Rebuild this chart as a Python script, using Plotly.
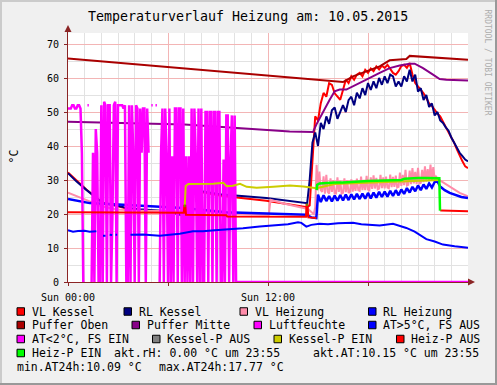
import plotly.graph_objects as go

# ------------------------------------------------------------------ data
# time in hours since Sun 00:00
vk_t = [0, 0.5, 1.1, 1.7, 2.1, 2.9, 3.5, 4.3, 5.5, 6.0, 6.9, 7.0, 7.1, 9.3, 11.9, 14.35]
vk_v = [32.2, 29.8, 27.2, 24.8, 23.3, 22.4, 21.6, 21.2, 20.9, 20.6, 20.2, 27.0, 27.2, 25.3, 23.9, 22.0]
vk_heat_start = 14.5   # 10-minute samples
vk_heat = [22.5, 36.0, 48.7, 47.5, 52.6, 55.6, 54.5, 58.5, 58.0, 55.5,
           54.6, 53.6, 56.5, 59.5, 58.5, 60.5, 59.5, 61.0, 61.5, 60.5,
           62.4, 61.5, 62.8, 62.0, 63.4, 62.5, 63.6, 63.0, 63.9, 62.5,
           61.5, 61.0, 62.0, 63.5, 63.9, 63.0, 64.4, 61.0, 58.5, 57.5,
           56.6, 55.5, 54.1, 52.5, 51.8, 50.5, 49.5, 48.7, 47.0, 45.5,
           44.0, 42.5, 41.0, 39.0, 37.0, 35.5, 34.0, 33.5]

rk_t = [0, 0.5, 1.1, 1.7, 2.1, 2.9, 3.5, 4.3, 5.5, 6.0, 6.9, 7.0, 7.1, 9.3, 11.9, 14.35]
rk_v = [32.0, 29.6, 27.1, 24.7, 23.2, 22.5, 21.8, 21.4, 21.1, 20.8, 19.5, 27.0, 27.4, 25.7, 24.7, 23.2]
rk_heat_start = 14.5   # 10-minute samples
rk_heat = [30.0, 41.0, 44.0, 40.0, 46.8, 45.0, 48.7, 46.5, 50.5, 51.3,
           48.0, 49.8, 52.0, 50.0, 53.5, 54.5, 52.0, 55.7, 54.0, 57.0,
           55.0, 58.5, 56.5, 59.0, 57.0, 60.0, 58.0, 60.5, 58.5, 61.0,
           60.5, 57.5, 59.0, 57.5, 60.5, 59.0, 62.4, 59.0, 61.0, 56.0,
           57.0, 53.5, 55.0, 51.5, 52.5, 49.0, 50.0, 47.5, 46.8, 45.5,
           44.5, 42.5, 41.0, 39.5, 38.0, 37.0, 36.0, 35.5]

vh_t = [0, 0.6, 1.3, 2.0, 2.9, 4.0, 5.5, 6.9, 7.0, 7.3, 7.6, 9.0, 10.0, 12.05, 12.15, 13.0, 14.4, 14.6]
vh_v = [26.3, 25.0, 23.7, 22.3, 21.3, 21.0, 20.8, 20.7, 22.3, 22.5, 21.0, 20.3, 20.0, 19.8, 24.2, 23.0, 21.5, 20.6]
vh_heat_start = 14.75  # 5-minute samples
vh_heat = [20.0, 22.0, 34.5, 27.0, 32.5, 27.0, 26.5, 31.1, 26.0, 31.5,
           26.5, 26.0, 30.5, 26.5, 30.0, 26.0, 26.0, 30.8, 26.5, 29.8,
           26.0, 26.2, 30.5, 26.4, 30.0, 26.2, 26.5, 30.2, 26.6, 29.6,
           26.8, 30.4, 27.0, 26.8, 31.0, 27.0, 30.0, 27.0, 31.2, 27.2,
           27.0, 30.8, 27.4, 31.4, 27.5, 30.6, 27.3, 27.5, 31.5, 27.6,
           30.8, 27.5, 31.0, 27.8, 27.6, 31.6, 27.9, 30.9, 28.0, 31.3,
           27.8, 28.0, 32.2, 28.3, 31.5, 28.5, 33.0, 28.4, 28.6, 32.8,
           28.8, 33.5, 29.0, 32.4, 28.8, 33.6, 29.0, 29.2, 33.0, 29.4,
           34.0, 29.5, 33.2, 29.8, 34.5, 30.0, 33.8, 30.2, 31.0, 30.5,
           30.1]
vh_tail_t = [22.6, 22.9, 23.5, 24.0]
vh_tail_v = [29.0, 28.1, 26.2, 25.2]

rh_t = [0, 1.3, 3.3, 5.3, 6.9, 9.5, 12.0, 14.3, 14.6, 14.9]
rh_v = [24.4, 23.2, 22.7, 22.2, 21.8, 20.5, 20.1, 19.8, 19.0, 18.8]
rh_heat_start = 15.0   # 10-minute samples
rh_heat = [25.7, 23.5, 25.5, 23.8, 25.3, 23.7, 25.4, 23.9, 25.6, 24.0,
           25.7, 24.1, 25.8, 24.3, 25.9, 24.4, 26.0, 24.5, 26.2, 24.6,
           26.3, 24.8, 26.5, 25.0, 26.6, 25.1, 26.8, 25.3, 27.0, 25.5,
           27.2, 25.9, 27.6, 26.3, 28.0, 26.7, 28.4, 27.0, 28.7, 27.4,
           29.0, 27.8, 29.4, 29.6]
rh_tail_t = [22.33, 22.6, 22.9, 23.3, 23.6, 24.0]
rh_tail_v = [28.1, 27.0, 26.2, 25.5, 25.0, 24.7]

po_t = [0, 16.5, 17.1, 17.9, 18.7, 19.3, 20.3, 20.5, 22.0, 24.0]
po_v = [65.7, 58.8, 60.5, 61.9, 63.4, 65.2, 65.6, 66.5, 66.1, 65.4]

pm_t = [0, 7.0, 13.3, 14.7, 14.9, 15.1, 15.4, 15.7, 16.0, 16.3, 16.7, 17.1,
        17.9, 18.7, 19.3, 19.9, 20.5, 20.8, 21.3, 21.9, 22.3, 22.7, 24.0]
pm_v = [47.1, 46.3, 44.3, 44.1, 46.3, 48.2, 51.2, 53.6, 56.1, 56.6, 56.6, 57.5,
        59.5, 61.5, 62.9, 63.7, 64.2, 64.2, 62.9, 61.0, 59.7, 59.5, 59.3]

lf_step = 1 / 12       # 5-minute samples from 00:00
lf_v = [51, 51, 51, 52, 52, 51, 51, 52, 52, 51,
        38, 0, 0, None, 52, 52, None, 0, 38, 0,
        45, 38, 0, 0, 52, 0, 53, 52, 0, 52,
        52, 0, 19, 52, 53, 0, 52, 52, 52, 52,
        51, 52, 0, 0, 52, 0, 52, 38, 0, 52,
        51, 0, 51, 38, 51, 51, 0, 51, 38, None,
        52, 52, None, 52, 52, None, 0, 38, 51, 0,
        51, 37, 0, 51, 0, 37, 0, 51, 51, 0,
        51, 51, 0, 51, 0, 37, 0, 37, 0, 51,
        0, 51, 37, 0, 51, 0, 51, 0, 0, 50,
        50, 0, 50, 50, 0, 50, 50, 0, 50, 50,
        0, 0, 36, 0, 49, 49, 0, 36, 49, 0,
        49, 0]
lf_tail_t = [24.0]
lf_tail_v = [0]

at_t = [0.0, 0.3, 0.6, 1.0, 1.3, 1.7, 1.75, 2.1, 2.25, 2.3, 2.5, 2.65, 2.7, 2.85, 2.95, 3.0,
        3.75, 4.5, 5.5, 6.0, 6.7, 7.5, 8.1, 8.8, 9.5, 10.5, 11.5, 12.5, 13.2, 13.8, 14.0,
        14.3, 14.6, 15.1, 15.6, 16.2, 17.1, 17.6, 18.2, 18.7, 19.5, 19.9, 20.3, 20.8, 21.5,
        22.0, 22.5, 23.2, 24.0]
at_v = [15.2, 14.8, 15.0, 15.1, 14.8, 14.9, None, 13.6, 13.6, None, 13.9, 13.8, None, 13.9, 13.9, None,
        13.9, 14.0, 13.6, 13.8, 14.2, 14.9, 14.9, 15.2, 15.4, 15.8, 16.3, 16.6, 17.0, 17.6, 17.4,
        16.3, 16.8, 17.1, 17.0, 17.3, 17.4, 17.0, 16.8, 16.6, 17.1, 16.5, 15.9, 14.8, 12.6,
        11.9, 11.0, 10.5, 10.1]

kpe_t = [7.0, 7.06, 7.22, 8.0, 8.72, 9.32, 9.52, 9.9, 10.32, 10.72, 11.32, 12.32, 13.32,
         14.12, 14.92, 16.0, 17.0, 18.0, 19.0, 20.0, 21.0, 22.3]
kpe_v = [21.8, 28.2, 28.8, 28.9, 28.9, 29.2, 28.2, 28.3, 28.9, 28.0, 27.7, 28.0, 28.4,
         28.1, 27.6, 28.8, 29.0, 29.2, 29.3, 29.5, 29.9, 30.0]

hpa_t = [0, 6.95, 6.98, 7.04, 7.08, 9.5, 9.55, 14.28, 14.31, 14.37, 14.42, 14.9, 14.91, 22.33, 22.4, 24.0]
hpa_v = [20.5, 20.4, 22.4, 22.4, 19.8, 19.6, 19.3, 19.2, 22.7, 22.7, 19.0, 18.8, None, 21.1, 21.0, 20.8]

hpe_t = [6.98, 7.04, 7.05, 14.31, 14.37, 14.38, 14.92, 14.95, 15.1, 15.5, 16.0, 16.5, 17.0,
         17.5, 18.0, 18.5, 19.0, 19.5, 20.0, 20.2, 20.5, 21.0, 21.5, 22.0, 22.28, 22.32]
hpe_v = [22.4, 22.4, None, 22.7, 22.7, None, 27.0, 28.6, 29.0, 29.2, 29.3, 29.3, 29.5,
         29.6, 29.7, 29.8, 29.8, 29.9, 30.0, 30.4, 30.5, 30.6, 30.6, 30.6, 30.5, 21.0]

legend_names = ['VL Kessel', 'RL Kessel', 'VL Heizung', 'RL Heizung',
                'Puffer Oben', 'Puffer Mitte', 'Luftfeuchte', 'AT>5°C, FS AUS',
                'AT<2°C, FS EIN', 'Kessel-P AUS', 'Kessel-P EIN', 'Heiz-P AUS',
                'Heiz-P EIN']
gprint_texts = ['akt.rH: 0.00 °C um 23:55', 'akt.AT:10.15 °C um 23:55',
                'min.AT24h:10.09 °C', 'max.AT24h:17.77 °C']
x_tickvals = [0, 6, 12, 18]
x_ticktext = ['Sun 00:00', '', 'Sun 12:00', '']
title_text = 'Temperaturverlauf Heizung am: 10.05.2015'

# ------------------------------------------------------------------ styles
C = {
    'VL Kessel': '#FF0000', 'RL Kessel': '#000080', 'VL Heizung': '#FF8CAA',
    'RL Heizung': '#0000FF', 'Puffer Oben': '#AA0000', 'Puffer Mitte': '#880088',
    'Luftfeuchte': '#FF00FF', 'AT>5°C, FS AUS': '#0000FF', 'AT<2°C, FS EIN': '#FF00FF',
    'Kessel-P AUS': '#808080', 'Kessel-P EIN': '#CCCC00', 'Heiz-P AUS': '#FF0000',
    'Heiz-P EIN': '#00FF00',
}
W_IMG, H_IMG = 497, 385
L, R, T, B = 68, 29, 33, 103
PW = W_IMG - L - R
PH = H_IMG - T - B
FONT = 'DejaVu Sans Mono'
AXIS = '#8B2525'
MGRID = '#F3B5B5'
GRID = '#E2E2E2'


def px(x):
    return (x - L) / PW


def py(y):
    return (T + PH - y) / PH


def grid_times(start, step, values):
    return [start + i * step for i in range(len(values))]


fig = go.Figure()


def add_line(t, v, color, width):
    fig.add_trace(go.Scatter(x=t, y=v, mode='lines', connectgaps=False,
                             line=dict(color=color, width=width),
                             hoverinfo='skip', showlegend=False))


add_line(vk_t + grid_times(vk_heat_start, 1 / 6, vk_heat), vk_v + vk_heat, C['VL Kessel'], 2)
add_line(rk_t + grid_times(rk_heat_start, 1 / 6, rk_heat), rk_v + rk_heat, C['RL Kessel'], 2)
add_line(vh_t + grid_times(vh_heat_start, 1 / 12, vh_heat) + vh_tail_t,
         vh_v + vh_heat + vh_tail_v, C['VL Heizung'], 2)
add_line(rh_t + grid_times(rh_heat_start, 1 / 6, rh_heat) + rh_tail_t,
         rh_v + rh_heat + rh_tail_v, C['RL Heizung'], 2.5)
add_line(po_t, po_v, C['Puffer Oben'], 2)
add_line(pm_t, pm_v, C['Puffer Mitte'], 2)
add_line(grid_times(0, lf_step, lf_v) + lf_tail_t, lf_v + lf_tail_v, C['Luftfeuchte'], 2.5)
add_line(at_t, at_v, C['AT>5°C, FS AUS'], 2)
add_line(kpe_t, kpe_v, C['Kessel-P EIN'], 2)
add_line(hpa_t, hpa_v, C['Heiz-P AUS'], 2)
add_line(hpe_t, hpe_v, C['Heiz-P EIN'], 2.5)

fig.update_layout(
    width=W_IMG, height=H_IMG,
    margin=dict(l=L, r=R, t=T, b=B, pad=0),
    paper_bgcolor='#F0F0F0', plot_bgcolor='#FFFFFF',
    showlegend=False,
    font=dict(family=FONT, size=10, color='#000000'),
)
fig.update_xaxes(
    range=[0, 24], tickmode='array', tickvals=x_tickvals, ticktext=x_ticktext,
    showgrid=True, gridcolor=MGRID, gridwidth=1,
    minor=dict(dtick=1, tick0=0, showgrid=True, gridcolor=GRID, gridwidth=1),
    showline=True, linecolor=AXIS, linewidth=1,
    ticks='outside', ticklen=3, tickcolor=AXIS, ticklabelstandoff=3,
    tickfont=dict(family=FONT, size=10, color='#000000'),
    zeroline=False, layer='below traces', fixedrange=True,
)
fig.update_yaxes(
    range=[0, PH / 3.4], tickmode='linear', tick0=0, dtick=10,
    showgrid=True, gridcolor=MGRID, gridwidth=1,
    minor=dict(dtick=5, tick0=0, showgrid=True, gridcolor=GRID, gridwidth=1),
    showline=True, linecolor=AXIS, linewidth=1,
    ticks='outside', ticklen=3, tickcolor=AXIS, ticklabelstandoff=3,
    tickfont=dict(family=FONT, size=10, color='#000000'),
    zeroline=False, layer='below traces', fixedrange=True,
)

shapes = []
# frame shading
shapes.append(dict(type='rect', xref='paper', yref='paper', x0=px(0), x1=px(W_IMG), y0=py(2), y1=py(0),
                   fillcolor='#CBCBCB', line=dict(width=0), layer='above'))
shapes.append(dict(type='rect', xref='paper', yref='paper', x0=px(0), x1=px(2), y0=py(H_IMG), y1=py(0),
                   fillcolor='#CBCBCB', line=dict(width=0), layer='above'))
shapes.append(dict(type='rect', xref='paper', yref='paper', x0=px(W_IMG - 2), x1=px(W_IMG), y0=py(H_IMG), y1=py(0),
                   fillcolor='#999999', line=dict(width=0), layer='above'))
shapes.append(dict(type='rect', xref='paper', yref='paper', x0=px(0), x1=px(W_IMG), y0=py(H_IMG), y1=py(H_IMG - 2),
                   fillcolor='#999999', line=dict(width=0), layer='above'))
# axis arrows
shapes.append(dict(type='path', xref='paper', yref='paper',
                   path=f'M {px(64.5)},{py(32)} L {px(71.5)},{py(32)} L {px(68)},{py(25)} Z',
                   fillcolor=AXIS, line=dict(width=0), layer='above'))
shapes.append(dict(type='line', xref='paper', yref='paper', x0=px(67.5), x1=px(67.5), y0=py(33), y1=py(30),
                   line=dict(color=AXIS, width=1), layer='above'))
shapes.append(dict(type='path', xref='paper', yref='paper',
                   path=f'M {px(468)},{py(278.5)} L {px(468)},{py(285.5)} L {px(475)},{py(282)} Z',
                   fillcolor=AXIS, line=dict(width=0), layer='above'))

annotations = []
annotations.append(dict(text=title_text, xref='paper', yref='paper', x=px(248), y=py(16),
                        xanchor='center', yanchor='middle', showarrow=False,
                        font=dict(family=FONT, size=13.3, color='#000000')))
annotations.append(dict(text='°C', xref='paper', yref='paper', x=px(13.5), y=py(156),
                        xanchor='center', yanchor='middle', showarrow=False, textangle=-90,
                        font=dict(family=FONT, size=11.5, color='#000000')))
annotations.append(dict(text='RRDTOOL / TOBI OETIKER', xref='paper', yref='paper', x=px(487.5), y=py(62),
                        xanchor='center', yanchor='middle', showarrow=False, textangle=90,
                        font=dict(family=FONT, size=8, color='#ADADAD')))

# legend layout (pixel positions): square left, text left, row centre
leg_sq_x = [17, 124, 240, 368.5,
            17, 132, 254, 368.5,
            17, 152.5, 274, 396.5,
            17]
leg_row_y = [311.5, 325, 339, 353]
leg_rows = [0, 0, 0, 0, 1, 1, 1, 1, 2, 2, 2, 2, 3]
for name, sx, row in zip(legend_names, leg_sq_x, leg_rows):
    cy = leg_row_y[row]
    shapes.append(dict(type='rect', xref='paper', yref='paper',
                       x0=px(sx), x1=px(sx + 7.5), y0=py(cy + 3.75), y1=py(cy - 3.75),
                       fillcolor=C[name], line=dict(color='#000000', width=1), layer='above'))
    annotations.append(dict(text=name, xref='paper', yref='paper', x=px(sx + 12.5), y=py(cy),
                            xanchor='left', yanchor='middle', showarrow=False,
                            font=dict(family=FONT, size=11.5, color='#000000')))

gp_pos = [(112, 353), (311, 353), (15, 367), (156.5, 367)]
for txt, (gx, gy) in zip(gprint_texts, gp_pos):
    annotations.append(dict(text=txt, xref='paper', yref='paper', x=px(gx), y=py(gy),
                            xanchor='left', yanchor='middle', showarrow=False,
                            font=dict(family=FONT, size=11.5, color='#000000')))

fig.update_layout(shapes=shapes, annotations=annotations)
fig.write_html('out.html', config={'displayModeBar': False},
               post_script="document.body.style.margin='0px';document.body.style.padding='0px';")
